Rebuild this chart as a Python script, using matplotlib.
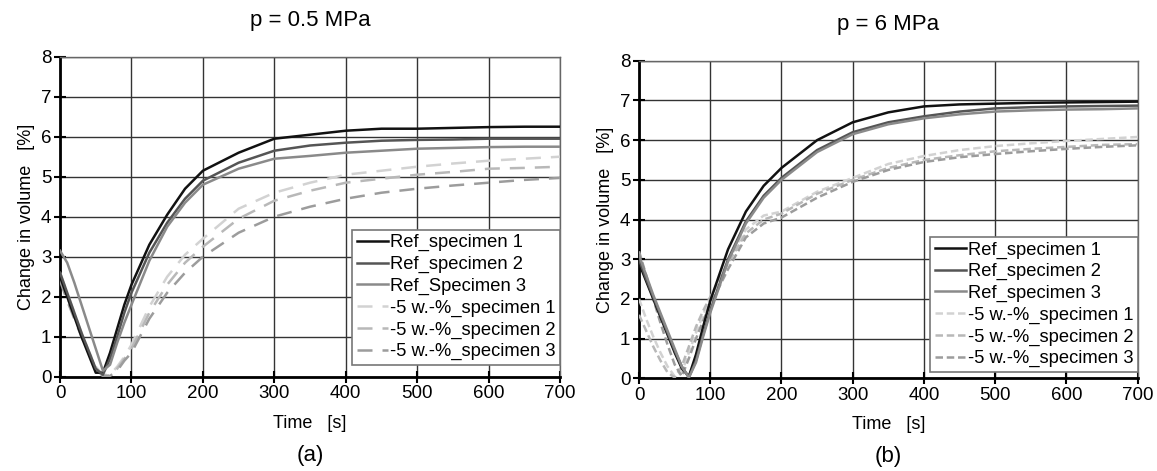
import matplotlib.pyplot as plt

plt.rcParams['font.family'] = ['Liberation Sans', 'DejaVu Sans']

# time points [s]
t = [0, 10, 20, 30, 40, 50, 60, 70, 80, 90, 100, 125, 150, 175, 200, 250, 300,
     350, 400, 450, 500, 550, 600, 650, 700]

# (a) p = 0.5 MPa
a_ref1 = [2.5, 2.0, 1.5, 1.0, 0.55, 0.1, 0.1, 0.6, 1.2, 1.8, 2.3, 3.3, 4.05, 4.7, 5.15,
          5.6, 5.95, 6.05, 6.15, 6.2, 6.2, 6.22, 6.24, 6.25, 6.25]
a_ref2 = [2.6, 2.1, 1.6, 1.1, 0.65, 0.2, 0.05, 0.45, 1.0, 1.6, 2.1, 3.1, 3.85, 4.45, 4.9,
          5.35, 5.65, 5.78, 5.85, 5.9, 5.92, 5.93, 5.95, 5.95, 5.95]
a_ref3 = [3.15, 2.85, 2.35, 1.8, 1.25, 0.7, 0.15, 0.3, 0.85, 1.35, 1.8, 2.9, 3.75, 4.35, 4.8,
          5.2, 5.45, 5.52, 5.6, 5.65, 5.7, 5.72, 5.74, 5.75, 5.75]
a_low1 = [2.6, 2.1, 1.6, 1.1, 0.65, 0.25, 0.05, 0.05, 0.25, 0.5, 0.8, 1.75, 2.5, 3.05, 3.45,
          4.2, 4.6, 4.85, 5.05, 5.15, 5.25, 5.33, 5.4, 5.45, 5.5]
a_low2 = [2.5, 2.0, 1.5, 1.05, 0.6, 0.2, 0.02, 0.03, 0.2, 0.45, 0.7, 1.6, 2.3, 2.85, 3.25,
          3.95, 4.4, 4.65, 4.85, 4.95, 5.05, 5.12, 5.2, 5.22, 5.25]
a_low3 = [2.4, 1.9, 1.45, 1.0, 0.6, 0.2, 0.02, 0.02, 0.15, 0.4, 0.6, 1.45, 2.1, 2.6, 3.0,
          3.6, 4.0, 4.25, 4.45, 4.6, 4.7, 4.78, 4.85, 4.92, 4.97]

# (b) p = 6 MPa
b_ref1 = [2.9, 2.45, 2.0, 1.55, 1.1, 0.65, 0.25, 0.05, 0.6, 1.3, 1.95, 3.25, 4.2, 4.85, 5.3,
          6.0, 6.45, 6.7, 6.85, 6.9, 6.92, 6.94, 6.95, 6.96, 6.97]
b_ref2 = [3.0, 2.5, 2.05, 1.6, 1.15, 0.7, 0.3, 0.02, 0.45, 1.1, 1.7, 3.0, 3.95, 4.6, 5.05,
          5.75, 6.2, 6.45, 6.6, 6.72, 6.8, 6.83, 6.85, 6.86, 6.87]
b_ref3 = [3.1, 2.6, 2.1, 1.65, 1.2, 0.75, 0.3, 0.02, 0.4, 1.05, 1.65, 2.95, 3.9, 4.55, 5.0,
          5.7, 6.15, 6.4, 6.55, 6.65, 6.72, 6.75, 6.77, 6.78, 6.8]
b_low1 = [2.0, 1.5, 1.05, 0.65, 0.3, 0.05, 0.15, 0.65, 1.15, 1.6, 2.0, 2.95, 3.75, 4.1, 4.2,
          4.7, 5.05, 5.4, 5.6, 5.75, 5.85, 5.92, 5.98, 6.03, 6.08]
b_low2 = [1.6, 1.2, 0.8, 0.45, 0.15, 0.02, 0.3, 0.8, 1.3, 1.7, 2.05, 2.9, 3.65, 4.0, 4.15,
          4.65, 5.0, 5.3, 5.5, 5.62, 5.72, 5.78, 5.83, 5.88, 5.9]
b_low3 = [3.2, 2.6, 2.0, 1.4, 0.85, 0.35, 0.05, 0.5, 1.0, 1.45, 1.85, 2.75, 3.55, 3.9, 4.05,
          4.55, 4.95, 5.25, 5.45, 5.57, 5.65, 5.72, 5.78, 5.83, 5.87]

ref_labels_a = ['Ref_specimen 1', 'Ref_specimen 2', 'Ref_Specimen 3']
ref_labels_b = ['Ref_specimen 1', 'Ref_specimen 2', 'Ref_specimen 3']
low_labels = ['-5 w.-%_specimen 1', '-5 w.-%_specimen 2', '-5 w.-%_specimen 3']

ref_colors = ['#111111', '#555555', '#8a8a8a']
low_colors = ['#d2d2d2', '#b8b8b8', '#9c9c9c']

fig = plt.figure(figsize=(11.57, 4.71), dpi=100)
ax1 = fig.add_axes([0.0519, 0.2002, 0.4322, 0.6794])
ax2 = fig.add_axes([0.5523, 0.1968, 0.4310, 0.6742])

panels = [
    (ax1, [a_ref1, a_ref2, a_ref3], [a_low1, a_low2, a_low3], ref_labels_a,
     'p = 0.5 MPa', '(a)', (6, 4), 0.037),
    (ax2, [b_ref1, b_ref2, b_ref3], [b_low1, b_low2, b_low3], ref_labels_b,
     'p = 6 MPa', '(b)', (3, 1.5), 0.02),
]

for ax, refs, lows, rlabels, title, tag, dash, leg_y in panels:
    for ys, c, lab in zip(lows, low_colors, low_labels):
        ax.plot(t, ys, color=c, lw=1.8, ls=(0, dash), label=lab, zorder=3)
    for ys, c, lab in zip(refs, ref_colors, rlabels):
        ax.plot(t, ys, color=c, lw=1.8, label=lab, zorder=4)

    ax.set_xlim(0, 700)
    ax.set_ylim(0, 8)
    ax.set_xticks(range(0, 701, 100))
    ax.set_yticks(range(0, 9))
    ax.grid(True, color='#333333', lw=1.0)
    ax.set_axisbelow(True)
    for s in ['top', 'right']:
        ax.spines[s].set_color('#666666')
        ax.spines[s].set_linewidth(1.0)
    for s in ['left', 'bottom']:
        ax.spines[s].set_linewidth(2.0)
    ax.tick_params(direction='inout', length=8.5, width=1.5, labelsize=13.5, pad=2)
    ax.set_xlabel('Time   [s]', fontsize=13, labelpad=9)
    ax.set_ylabel('Change in volume   [%]', fontsize=13, labelpad=4)
    ax.set_title(title, fontsize=16, pad=22)
    ax.text(0.5, -0.245, tag, transform=ax.transAxes, ha='center', va='center',
            fontsize=16)

    h, l = ax.get_legend_handles_labels()
    order = [3, 4, 5, 0, 1, 2]
    leg = ax.legend([h[i] for i in order], [l[i] for i in order],
                    loc='lower right', bbox_to_anchor=(1.0, leg_y),
                    fontsize=13.2, handlelength=1.7, handletextpad=0.1,
                    labelspacing=0.25, borderpad=0.25, borderaxespad=0.0,
                    fancybox=False, framealpha=1, edgecolor='#777777')
    leg.get_frame().set_linewidth(1.2)
    leg.set_zorder(10)

fig.savefig('out.png', dpi=100)
